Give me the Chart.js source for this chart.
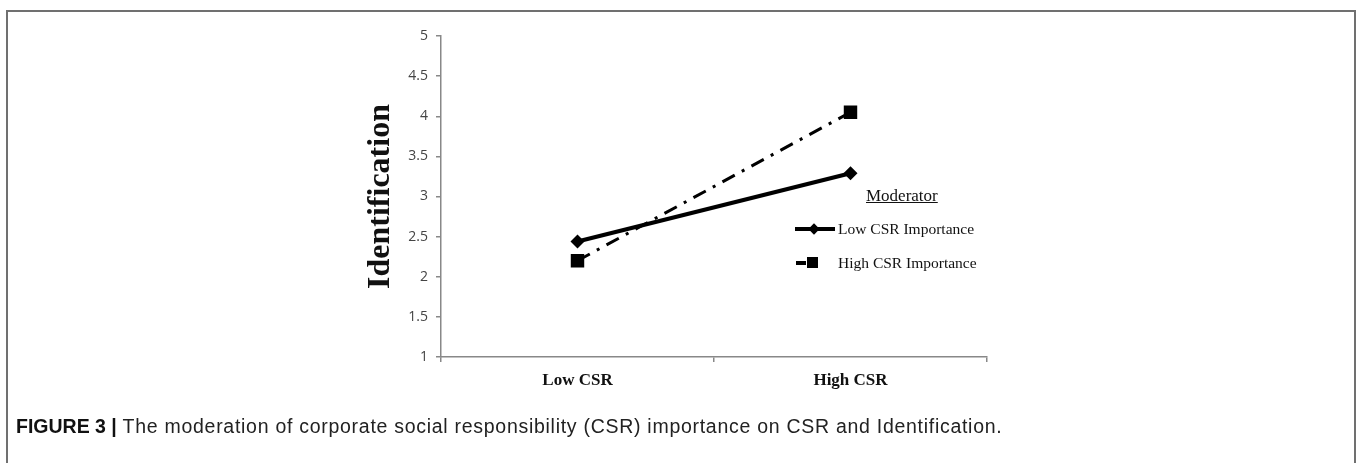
<!DOCTYPE html>
<html>
<head>
<meta charset="utf-8">
<script src="https://cdn.jsdelivr.net/npm/chart.js@4/dist/chart.umd.min.js"></script>
<style>
  html, body { margin: 0; padding: 0; background: #fff; }
  body { width: 1357px; height: 463px; position: relative; overflow: hidden; }
  #frame {
    position: absolute; left: 6px; top: 10px; width: 1346px; height: 470px;
    border: 2px solid #707070; border-bottom: none;
  }
  #wrap { position: absolute; left: 0; top: 0; width: 1357px; height: 463px; }
  .legend { position: absolute; font-family: "Liberation Serif", "Times New Roman", serif; color: #111; }
  #modTitle { left: 866px; top: 186px; font-size: 17px; text-decoration: underline; }
  .row { position: absolute; left: 795px; height: 20px; font-size: 15.5px; line-height: 20px; }
  .row span.txt { position: absolute; left: 43px; top: 0; white-space: nowrap; }
  .swatch { position: absolute; background: #000; }
  #caption {
    position: absolute; left: 16px; top: 415px; font-size: 19.5px; letter-spacing: 0.72px; color: #222;
    font-family: "Liberation Sans", Arial, sans-serif; white-space: nowrap;
  }
  #caption b { font-weight: bold; color: #111; letter-spacing: 0; }
</style>
</head>
<body>
<div id="frame"></div>
<div id="wrap"><canvas id="chart" width="1357" height="463"></canvas></div>

<div class="legend" id="modTitle">Moderator</div>
<div class="legend row" style="top:219px;">
  <div class="swatch" style="left:0; top:8px; width:40px; height:4px;"></div>
  <div class="swatch" style="left:15px; top:6px; width:8px; height:8px; transform:rotate(45deg);"></div>
  <span class="txt">Low CSR Importance</span>
</div>
<div class="legend row" style="top:253px;">
  <div class="swatch" style="left:1px; top:8px; width:10px; height:4px;"></div>
  <div class="swatch" style="left:12px; top:4px; width:11px; height:11px;"></div>
  <span class="txt">High CSR Importance</span>
</div>

<div id="caption"><b>FIGURE 3 |</b> The moderation of corporate social responsibility (CSR) importance on CSR and Identification.</div>

<script>
const categories = ['Low CSR', 'High CSR'];
const lowImportance = [2.44, 3.29];
const highImportance = [2.20, 4.05];
const yTicks = [1, 1.5, 2, 2.5, 3, 3.5, 4, 4.5, 5];

const ctx = document.getElementById('chart').getContext('2d');

new Chart(ctx, {
    type: 'line',
    data: {
        labels: categories,
        datasets: [
            {
                label: 'Low CSR Importance',
                data: lowImportance,
                borderColor: '#000',
                backgroundColor: '#000',
                borderWidth: 4,
                pointStyle: 'rectRot',
                pointRadius: 7,
                pointBackgroundColor: '#000',
                pointBorderWidth: 0,
                tension: 0
            },
            {
                label: 'High CSR Importance',
                data: highImportance,
                borderColor: '#000',
                backgroundColor: '#000',
                borderWidth: 3,
                borderDash: [14, 8, 3, 8],
                pointStyle: 'rect',
                pointRadius: 9.5,
                pointBackgroundColor: '#000',
                pointBorderWidth: 0,
                tension: 0
            }
        ]
    },
    options: {
        responsive: false,
        animation: false,
        layout: { padding: { left: 358, right: 370, top: 36, bottom: 66 } },
        plugins: {
            legend: { display: false },
            tooltip: { enabled: false }
        },
        scales: {
            x: {
                offset: true,
                afterFit: s => { s.height = 40; },
                grid: { offset: true, drawOnChartArea: false, drawTicks: true, tickLength: 5, color: '#888', lineWidth: 1.5 },
                border: { display: true, color: '#888', width: 1.5 },
                ticks: {
                    color: '#111',
                    padding: 8,
                    font: { family: '"Liberation Serif", "Times New Roman", serif', size: 17, weight: 'bold' }
                }
            },
            y: {
                min: 1,
                max: 5,
                afterFit: s => { s.width = 83; },
                afterBuildTicks: s => { s.ticks = yTicks.map(v => ({ value: v })); },
                grid: { drawOnChartArea: false, drawTicks: true, tickLength: 5, color: '#888', lineWidth: 1.5 },
                border: { display: true, color: '#888', width: 1.5 },
                title: {
                    display: true,
                    text: 'Identification',
                    color: '#111',
                    padding: { top: 4, bottom: 0 },
                    font: { family: '"Liberation Serif", "Times New Roman", serif', size: 32, weight: 'bold' }
                },
                ticks: {
                    color: '#444',
                    padding: 8,
                    callback: v => String(v),
                    font: { family: '"Open Sans", "Liberation Sans", sans-serif', size: 14 }
                }
            }
        }
    }
});
</script>
</body>
</html>
